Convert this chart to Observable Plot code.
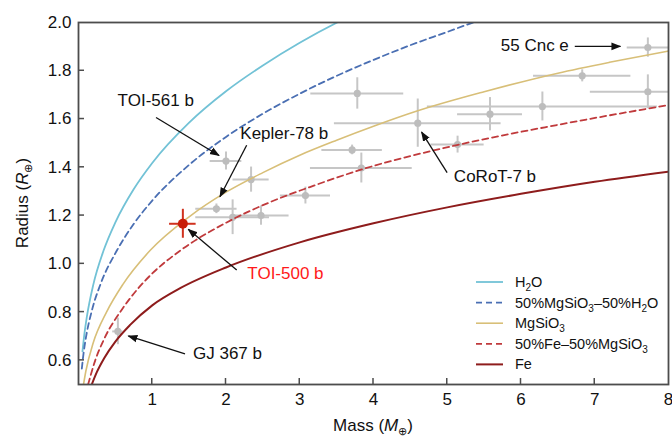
<!DOCTYPE html>
<html>
<head>
<meta charset="utf-8">
<script src="https://cdn.jsdelivr.net/npm/d3@7"></script>
<script src="https://cdn.jsdelivr.net/npm/@observablehq/plot@0.6"></script>
<style>
  html, body { margin: 0; padding: 0; background: #fff; }
  #chart svg { display: block; }
</style>
</head>
<body>
<div id="chart"></div>
<script>
// Composition models: mass (Earth masses) against radius (Earth radii)
const h2oMass     = [0.054, 0.08, 0.113, 0.2, 0.34, 0.5, 0.75, 1.0, 1.5, 2.0, 2.5, 3.0, 3.5, 4.0];
const h2oRadius   = [0.637, 0.71, 0.78, 0.913, 1.055, 1.172, 1.31, 1.418, 1.585, 1.715, 1.822, 1.916, 1.999, 2.071];
const mixWMass    = [0.045, 0.07, 0.1, 0.18, 0.3, 0.52, 0.75, 1.0, 1.5, 2.0, 2.5, 3.0, 3.5, 4.0, 4.5, 5.0, 5.35, 6.0];
const mixWRadius  = [0.566, 0.633, 0.693, 0.805, 0.917, 1.055, 1.166, 1.262, 1.41, 1.526, 1.622, 1.705, 1.779, 1.845, 1.906, 1.961, 2.0, 2.061];
const rockMass    = [0.068, 0.1, 0.2, 0.38, 0.6, 0.97, 1.5, 2.0, 2.5, 3.0, 3.5, 4.0, 4.6, 5.5, 6.5, 7.2, 8.0];
const rockRadius  = [0.5, 0.556, 0.673, 0.8, 0.914, 1.055, 1.195, 1.297, 1.378, 1.45, 1.512, 1.57, 1.634, 1.713, 1.79, 1.835, 1.882];
const mixFeMass   = [0.13, 0.227, 0.35, 0.587, 0.8, 1.0, 1.38, 2.0, 2.6, 3.2, 3.83, 5.13, 6.5, 8.0];
const mixFeRadius = [0.5, 0.6, 0.69, 0.81, 0.895, 0.96, 1.055, 1.17, 1.256, 1.325, 1.39, 1.492, 1.576, 1.658];
const ironMass    = [0.18, 0.25, 0.35, 0.5, 0.7, 1.0, 1.385, 2.0, 3.0, 4.0, 5.0, 6.0, 7.0, 8.0];
const ironRadius  = [0.5, 0.552, 0.61, 0.678, 0.747, 0.828, 0.9, 0.985, 1.089, 1.168, 1.234, 1.29, 1.34, 1.382];

const modelNames  = ["H_2O", "50%MgSiO_3–50%H_2O", "MgSiO_3", "50%Fe–50%MgSiO_3", "Fe"];
const modelColors = ["#72c2d6", "#4a6fb3", "#d8bf78", "#c03a3c", "#8e1c1c"];
const modelDashes = [null, "6,4", null, "6,4", null];
const modelWidths = [1.8, 1.8, 1.6, 1.8, 2];

// Known small planets with error bars
const planetMass      = [0.534, 2.0, 2.34, 1.87, 2.09, 2.475, 3.077, 3.71, 3.835, 3.78, 4.60, 5.14, 5.58, 6.29, 6.83, 7.72, 7.72];
const planetMassErr   = [0.07, 0.215, 0.245, 0.28, 0.5, 0.38, 0.34, 0.41, 0.69, 0.63, 1.13, 0.36, 0.44, 1.56, 0.66, 0.78, 0.28];
const planetRadius    = [0.72, 1.426, 1.349, 1.228, 1.193, 1.2, 1.283, 1.472, 1.397, 1.706, 1.583, 1.494, 1.62, 1.652, 1.779, 1.713, 1.896];
const planetRadiusErr = [0.055, 0.037, 0.052, 0.02, 0.072, 0.04, 0.035, 0.02, 0.062, 0.065, 0.1, 0.035, 0.069, 0.06, 0.025, 0.07, 0.04];

// TOI-500 b
const toiMass = 1.415, toiMassErr = 0.18, toiRadius = 1.166, toiRadiusErr = 0.06;

// Labelled planets: label anchor and arrow (tail -> head), in data units
const noteText  = ["TOI-561 b", "Kepler-78 b", "55 Cnc e", "CoRoT-7 b", "TOI-500 b", "GJ 367 b"];
const noteColor = ["#111", "#111", "#111", "#111", "#ff1a1a", "#111"];
const noteX     = [1.047, 2.79, 6.187, 5.647, 2.806, 2.02];
const noteY     = [1.676, 1.538, 1.903, 1.362, 0.959, 0.628];
const arrowX1   = [1.058, 2.287, 6.736, 5.005, 2.152, 1.451];
const arrowY1   = [1.604, 1.489, 1.899, 1.376, 0.972, 0.625];
const arrowX2   = [1.912, 1.925, 7.355, 4.659, 1.496, 0.683];
const arrowY2   = [1.447, 1.276, 1.899, 1.544, 1.141, 0.699];

const xTicks = [1, 2, 3, 4, 5, 6, 7, 8];
const yTicks = [0.6, 0.8, 1.0, 1.2, 1.4, 1.6, 1.8, 2.0];

// Tables built from the arrays above
const curveSets = [[h2oMass, h2oRadius], [mixWMass, mixWRadius], [rockMass, rockRadius], [mixFeMass, mixFeRadius], [ironMass, ironRadius]];
const planets = planetMass.map((m, i) => ({m, dm: planetMassErr[i], r: planetRadius[i], dr: planetRadiusErr[i]}));
const toi = [{m: toiMass, dm: toiMassErr, r: toiRadius, dr: toiRadiusErr}];
const notes = noteText.map((t, i) => ({t, c: noteColor[i], x: noteX[i], y: noteY[i]}));
const arrows = arrowX1.map((x1, i) => ({x1, y1: arrowY1[i], x2: arrowX2[i], y2: arrowY2[i]}));

const FONT = "'Liberation Sans', Arial, Helvetica, sans-serif";
const AXIS = "#4d4d4d";

const curveMarks = curveSets.map(([ms, rs], k) =>
  Plot.line(ms.map((m, i) => ({m, r: rs[i]})), {
    x: "m", y: "r", curve: "monotone-x", clip: true,
    stroke: modelColors[k], strokeWidth: modelWidths[k],
    strokeDasharray: modelDashes[k] ?? undefined
  })
);

const chart = Plot.plot({
  width: 672,
  height: 436,
  marginLeft: 78,
  marginRight: 4,
  marginTop: 22,
  marginBottom: 52,
  style: {fontFamily: FONT, fontSize: "17px", color: "#111", background: "#fff", overflow: "visible"},
  x: {domain: [0, 8]},
  y: {domain: [0.5, 2.0]},
  marks: [
    Plot.ruleY(planets, {y: "r", x1: d => d.m - d.dm, x2: d => d.m + d.dm, stroke: "#c6c6c6", strokeWidth: 2, clip: true}),
    Plot.ruleX(planets, {x: "m", y1: d => d.r - d.dr, y2: d => d.r + d.dr, stroke: "#c6c6c6", strokeWidth: 2, clip: true}),
    Plot.dot(planets, {x: "m", y: "r", r: 3.6, fill: "#bdbdbd"}),
    ...curveMarks,
    Plot.ruleY(toi, {y: "r", x1: d => d.m - d.dm, x2: d => d.m + d.dm, stroke: "#d0321e", strokeWidth: 2}),
    Plot.ruleX(toi, {x: "m", y1: d => d.r - d.dr, y2: d => d.r + d.dr, stroke: "#d0321e", strokeWidth: 2}),
    Plot.dot(toi, {x: "m", y: "r", r: 5, fill: "#c81e0a"}),
    Plot.text(notes, {x: "x", y: "y", text: "t", fill: "c", fontSize: 17, textAnchor: "middle"}),
    Plot.frame({stroke: AXIS, strokeWidth: 1.8}),
    Plot.axisX({ticks: xTicks, tickSize: 0, tickPadding: 8, fontSize: 17, label: null}),
    Plot.axisY({ticks: yTicks, tickSize: 0, tickPadding: 7, fontSize: 17, tickFormat: d3.format(".1f"), label: null})
  ]
});

const svg = d3.select(chart);
const sx = chart.scale("x"), sy = chart.scale("y");
const [xLo] = sx.domain, [yLo] = sy.domain;

// Inward tick marks on the bottom and left edges
const tickG = svg.append("g").attr("stroke", AXIS).attr("stroke-width", 1.5);
tickG.selectAll(".xt").data(xTicks.slice(0, -1)).join("line")
  .attr("x1", d => sx.apply(d)).attr("x2", d => sx.apply(d))
  .attr("y1", sy.apply(yLo)).attr("y2", sy.apply(yLo) - 6);
tickG.selectAll(".yt").data(yTicks.slice(0, -1)).join("line")
  .attr("y1", d => sy.apply(d)).attr("y2", d => sy.apply(d))
  .attr("x1", sx.apply(xLo)).attr("x2", sx.apply(xLo) + 6);

// Annotation arrows with filled heads, placed through the plot's scales
const defs = svg.append("defs");
defs.append("marker")
  .attr("id", "head").attr("viewBox", "0 0 10 10").attr("refX", 9).attr("refY", 5)
  .attr("markerWidth", 10).attr("markerHeight", 10).attr("markerUnits", "userSpaceOnUse")
  .attr("orient", "auto")
  .append("path").attr("d", "M0,1.2 L10,5 L0,8.8 Z").attr("fill", "#111");
svg.append("g").selectAll("line").data(arrows).join("line")
  .attr("x1", d => sx.apply(d.x1)).attr("y1", d => sy.apply(d.y1))
  .attr("x2", d => sx.apply(d.x2)).attr("y2", d => sy.apply(d.y2))
  .attr("stroke", "#111").attr("stroke-width", 1.3).attr("marker-end", "url(#head)");

// Write a label where "_d" marks a subscript digit
function richText(sel, str, subSize) {
  let shifted = false;
  str.split(/(_\d)/).filter(s => s).forEach(part => {
    if (part.startsWith("_")) {
      sel.append("tspan").attr("font-size", subSize).attr("dy", 4).text(part.slice(1));
      shifted = true;
    } else {
      sel.append("tspan").attr("dy", shifted ? -4 : null).text(part);
      shifted = false;
    }
  });
}

// Legend for the composition models
const legend = svg.append("g").attr("font-family", FONT).attr("font-size", 14.5)
  .attr("fill", "#111").attr("text-anchor", "start");
modelNames.forEach((name, i) => {
  const y = 282 + i * 20.6;
  legend.append("line")
    .attr("x1", 476).attr("x2", 503).attr("y1", y).attr("y2", y)
    .attr("stroke", modelColors[i]).attr("stroke-width", modelWidths[i])
    .attr("stroke-dasharray", modelDashes[i]);
  const t = legend.append("text").attr("x", 515).attr("y", y + 5);
  richText(t, name, 10);
});

// Axis titles with italic symbols and the Earth subscript
const xTitle = svg.append("text").attr("x", 373).attr("y", 431)
  .attr("text-anchor", "middle").attr("font-family", FONT).attr("font-size", 17).attr("fill", "#111");
xTitle.append("tspan").text("Mass (");
xTitle.append("tspan").attr("font-style", "italic").text("M");
xTitle.append("tspan").attr("font-size", 11).attr("dy", 4).text("⊕");
xTitle.append("tspan").attr("dy", -4).text(")");

const yTitle = svg.append("text").attr("transform", "translate(28,203) rotate(-90)")
  .attr("text-anchor", "middle").attr("font-family", FONT).attr("font-size", 17).attr("fill", "#111");
yTitle.append("tspan").text("Radius (");
yTitle.append("tspan").attr("font-style", "italic").text("R");
yTitle.append("tspan").attr("font-size", 11).attr("dy", 4).text("⊕");
yTitle.append("tspan").attr("dy", -4).text(")");

document.getElementById("chart").appendChild(chart);
</script>
</body>
</html>
